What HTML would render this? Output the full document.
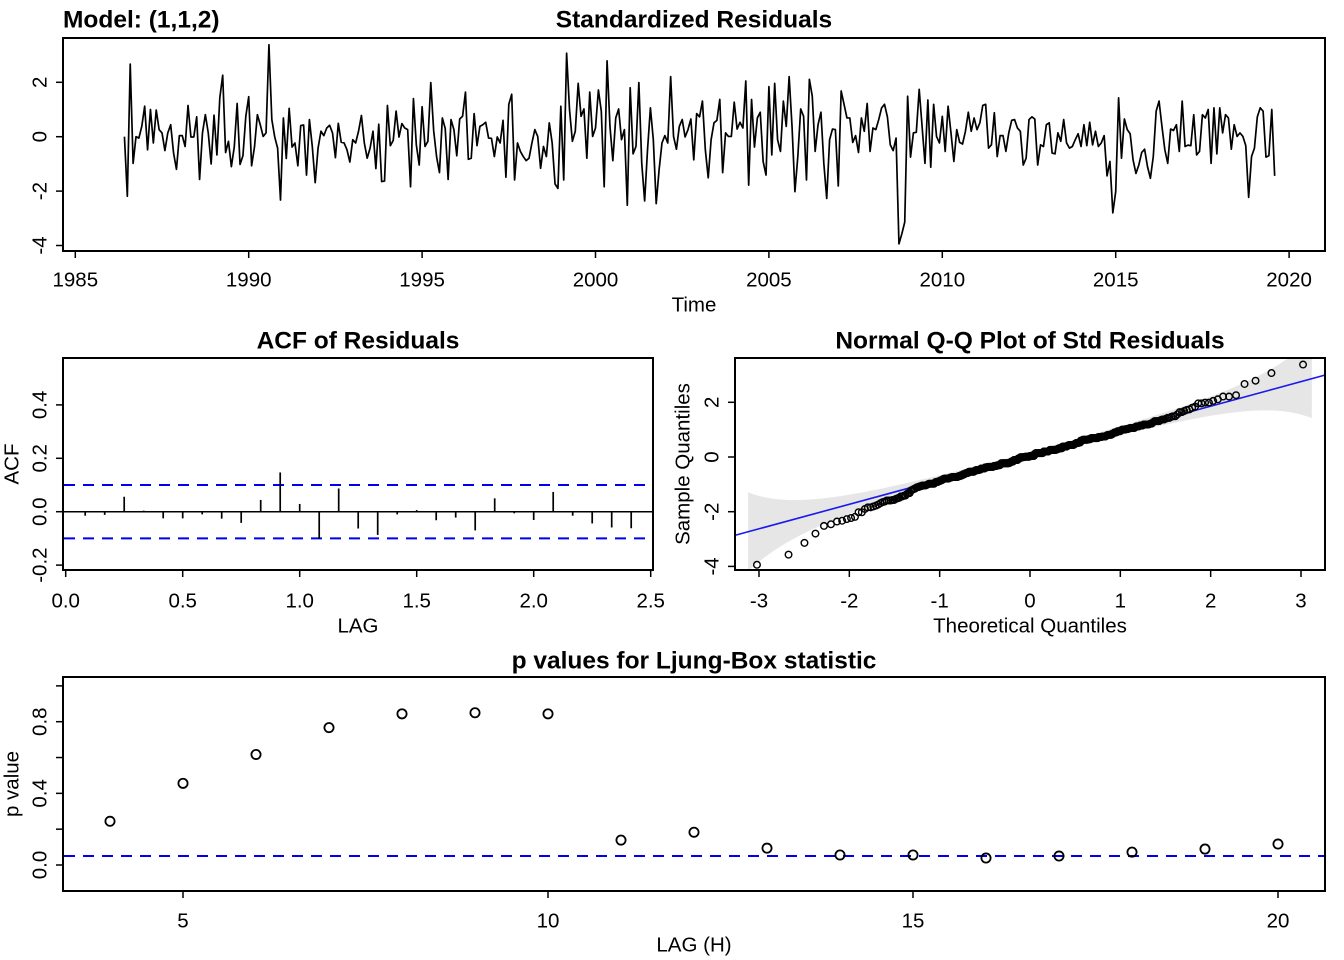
<!DOCTYPE html>
<html><head><meta charset="utf-8">
<style>
html,body{margin:0;padding:0;background:#fff;}
svg{display:block;font-family:"Liberation Sans",Arial,sans-serif;}
.tl{font-size:20.5px;fill:#000;}
.tt{font-size:24.5px;font-weight:bold;fill:#000;}
</style></head>
<body>
<svg id="fig" width="1344" height="960" viewBox="0 0 1344 960" xmlns="http://www.w3.org/2000/svg">
<defs>
<clipPath id="clipTop"><rect x="63" y="38" width="1262" height="213"/></clipPath>
<clipPath id="clipQQ"><rect x="735" y="358" width="590" height="212"/></clipPath>
</defs>
<g id="gTop"></g>
<g id="gAcf"></g>
<g id="gQQ"></g>
<g id="gLB"></g>
</svg>
<script>
// ---------- data ----------
const residStart = 1986.417;
const residuals = [
0.0,-2.19,2.67,-0.98,0.0,-0.05,0.38,1.12,-0.48,1.0,-0.23,0.98,0.26,0.14,-0.51,0.14,0.44,-0.6,-1.2,0.04,0.04,-0.36,1.15,-0.01,-0.01,0.73,-1.57,0.14,0.81,0.14,-1.0,0.79,-0.67,1.43,2.26,-0.58,-0.17,-1.1,-0.38,1.22,-1.02,-0.7,0.75,1.47,-1.07,-0.38,0.81,0.44,0.01,0.14,3.38,0.63,-0.01,-0.42,-2.33,0.69,-0.8,1.04,-0.38,-0.23,-1.07,0.41,0.43,-1.41,0.63,-0.36,-1.69,-0.42,0.2,0.04,0.32,0.42,0.14,-0.77,0.49,-0.2,-0.23,-0.48,-0.93,-0.11,-0.23,0.2,0.78,-0.23,-0.79,-0.42,0.2,-1.17,0.46,-1.65,-1.63,1.15,-0.33,-0.14,0.94,-0.01,0.48,0.32,0.26,-1.84,1.4,-0.3,-1.04,1.1,-0.36,-0.17,1.99,0.22,-0.73,-1.32,0.69,0.3,-1.57,0.63,0.26,-0.7,0.65,0.75,1.64,-0.83,-0.79,0.85,-0.33,0.38,0.44,0.53,-0.05,-0.06,-0.73,-0.01,-0.23,0.6,-1.49,1.19,1.56,-1.59,-0.23,
-0.54,-0.73,-0.88,-0.79,-0.23,0.26,0.01,-1.16,-0.36,-0.73,0.51,-0.23,-1.74,-1.9,1.12,-1.59,3.07,1.0,-0.17,0.2,1.96,0.75,1.02,-0.79,1.64,0.01,0.32,1.72,0.94,-1.84,2.79,0.38,-0.88,0.69,1.02,-0.11,0.26,-2.52,1.8,-0.63,-0.36,1.99,-0.98,-2.36,-0.48,1.06,-0.11,-2.46,-1.22,-0.23,0.04,-0.23,2.21,0.01,-0.46,0.38,0.63,-0.01,0.26,0.65,-0.85,0.85,0.73,1.31,-0.48,-1.51,-0.11,0.51,0.6,1.37,-1.32,0.14,0.01,0.01,1.27,0.28,0.53,0.32,2.05,-1.78,1.37,-0.38,0.69,0.9,-0.91,-1.41,1.84,-0.67,1.96,
-0.11,-0.54,1.31,0.38,2.21,0.38,-2.02,-0.73,1.02,0.75,-1.59,2.11,1.49,-0.54,0.44,0.9,-0.98,-2.27,-0.11,0.28,0.26,-1.81,1.68,1.19,0.69,0.69,-0.21,0.04,-0.58,0.69,0.2,1.22,-0.54,0.32,0.26,0.63,1.06,1.19,0.73,-0.3,-0.51,-0.05,-3.94,-3.57,-3.14,1.49,-0.75,0.14,0.16,1.74,0.38,-0.98,1.35,-1.12,1.19,0.01,-0.23,0.75,-0.54,1.12,0.14,-0.91,0.26,-0.21,-0.27,0.2,0.9,0.2,0.69,0.26,0.51,1.15,1.19,-0.42,-0.3,0.88,-0.73,0.04,0.04,-0.54,0.14,0.6,0.63,0.32,0.2,-1.04,-0.79,0.63,0.73,0.65,
-1.04,-0.3,-0.36,0.44,0.51,-0.6,-0.63,0.14,-0.17,0.63,-0.23,-0.42,-0.36,-0.11,0.11,-0.36,0.44,-0.33,0.53,-0.3,0.2,-0.36,-0.23,0.04,-1.44,-0.91,-2.8,-2.02,1.43,-0.79,0.65,0.26,0.11,-0.85,-1.35,-1.04,-0.58,-0.46,-1.1,-1.53,-0.73,0.94,1.31,0.38,-0.48,-0.98,0.28,0.23,0.44,-0.54,1.31,-0.36,-0.31,-0.33,0.81,-0.67,-0.54,0.81,0.69,1.0,-0.98,1.06,-0.63,1.06,0.14,0.81,0.69,-0.46,0.44,0.01,0.14,0.01,-0.33,-2.23,-0.73,-0.42,0.73,1.06,0.94,-0.75,-0.7,1.0,-1.44
];
const acfValues = [-0.015,-0.012,0.056,0.004,-0.025,-0.025,-0.01,-0.026,-0.042,0.044,0.147,0.029,-0.101,0.087,-0.063,-0.087,-0.01,0.006,-0.032,-0.022,-0.07,0.05,-0.006,-0.031,0.074,-0.015,-0.044,-0.059,-0.062];
const acfBound = 0.1;
const lbLags = [4,5,6,7,8,9,10,11,12,13,14,15,16,17,18,19,20];
const lbPvalues = [0.244,0.456,0.617,0.767,0.844,0.85,0.844,0.139,0.183,0.094,0.056,0.056,0.039,0.05,0.072,0.089,0.117];
const lbAlpha = 0.05;
const topYTicks = [-4,-2,0,2];
const topXTicks = [1985,1990,1995,2000,2005,2010,2015,2020];
const acfXTicks = ["0.0","0.5","1.0","1.5","2.0","2.5"];
const acfYTicks = ["-0.2","0.0","0.2","0.4"];
const qqXTicks = [-3,-2,-1,0,1,2,3];
const qqYTicks = [-4,-2,0,2];
const lbXTicks = [5,10,15,20];
const lbYTickVals = [0,0.2,0.4,0.6,0.8,1.0];
const lbYLabels = ["0.0","","0.4","","0.8",""];

// ---------- helpers ----------
const NS="http://www.w3.org/2000/svg";
function mk(tag,attrs,parent){const e=document.createElementNS(NS,tag);for(const k in attrs)e.setAttribute(k,attrs[k]);parent.appendChild(e);return e;}
function txt(parent,x,y,s,cls,rot,anchor){const t=mk('text',{x:x,y:y,'class':cls,'text-anchor':anchor||'middle','dominant-baseline':'central'},parent);if(rot)t.setAttribute('transform','rotate(-90 '+x+' '+y+')');t.textContent=s;return t;}
function lin(a0,a1,p0,p1){return v=>p0+(v-a0)*(p1-p0)/(a1-a0);}
function qnorm(p){const a=[-39.69683028665376,220.9460984245205,-275.9285104469687,138.357751867269,-30.66479806614716,2.506628277459239],b=[-54.47609879822406,161.5858368580409,-155.6989798598866,66.80131188771972,-13.28068155288572],c=[-0.007784894002430293,-0.3223964580411365,-2.400758277161838,-2.549732539343734,4.374664141464968,2.938163982698783],d=[0.007784695709041462,0.3224671290700398,2.445134137142996,3.754408661907416];const pl=0.02425;let q,r;if(p<pl){q=Math.sqrt(-2*Math.log(p));return (((((c[0]*q+c[1])*q+c[2])*q+c[3])*q+c[4])*q+c[5])/((((d[0]*q+d[1])*q+d[2])*q+d[3])*q+1);}if(p>1-pl){q=Math.sqrt(-2*Math.log(1-p));return -(((((c[0]*q+c[1])*q+c[2])*q+c[3])*q+c[4])*q+c[5])/((((d[0]*q+d[1])*q+d[2])*q+d[3])*q+1);}q=p-0.5;r=q*q;return (((((a[0]*r+a[1])*r+a[2])*r+a[3])*r+a[4])*r+a[5])*q/(((((b[0]*r+b[1])*r+b[2])*r+b[3])*r+b[4])*r+1);}
function pnorm(z){const t=1/(1+0.2316419*Math.abs(z));const d=0.3989423*Math.exp(-z*z/2);let p=d*t*(0.3193815+t*(-0.3565638+t*(1.781478+t*(-1.821256+t*1.330274))));return z>0?1-p:p;}
function dnorm(z){return Math.exp(-z*z/2)/Math.sqrt(2*Math.PI);}
function quant(sorted,p){const h=(sorted.length-1)*p,lo=Math.floor(h);return sorted[lo]+(h-lo)*(sorted[lo+1]-sorted[lo]);}

// ---------- top panel ----------
(function(){
const g=document.getElementById('gTop');
const X=lin(1985,1990,75.3,248.7), Y=lin(0,2,136.7,82.3);
const box=mk('rect',{x:63,y:38,width:1262,height:213,fill:'none',stroke:'#000','stroke-width':2},g);

let d='';residuals.forEach((v,i)=>{d+=(i?'L':'M')+X(residStart+i/12).toFixed(2)+' '+Y(v).toFixed(2);});
const ln=mk('path',{d:d,fill:'none',stroke:'#000','stroke-width':1.7,'stroke-linejoin':'round','clip-path':'url(#clipTop)'},g);

topXTicks.forEach(t=>{const x=X(t);mk('line',{x1:x,y1:251,x2:x,y2:258,stroke:'#000','stroke-width':1.5},g);
 const l=txt(g,x,280,String(t),'tl');});
topYTicks.forEach(t=>{const y=Y(t);mk('line',{x1:63,y1:y,x2:56,y2:y,stroke:'#000','stroke-width':1.5},g);
 const l=txt(g,40,y,String(t),'tl',true);});
const xt=txt(g,694,305,'Time','tl');
const tt=txt(g,694,20,'Standardized Residuals','tt');
const mt=txt(g,63,20,'Model: (1,1,2)','tt',false,'start');
})();

// ---------- ACF panel ----------
(function(){
const g=document.getElementById('gAcf');
const X=lin(0,0.5,65.7,182.7), Y=lin(0,0.2,511.7,458.3);
const box=mk('rect',{x:63,y:358,width:590,height:212,fill:'none',stroke:'#000','stroke-width':2},g);

mk('line',{x1:63,y1:Y(0),x2:653,y2:Y(0),stroke:'#000','stroke-width':1.5},g);
[acfBound,-acfBound].forEach((b,i)=>{const l=mk('line',{x1:64,y1:Y(b),x2:652,y2:Y(b),stroke:'#0000ee','stroke-width':2,'stroke-dasharray':'11 8'},g);
 });
acfValues.forEach((v,i)=>{const x=X((i+1)/12);const b=mk('line',{x1:x,y1:Y(0),x2:x,y2:Y(v),stroke:'#000','stroke-width':1.7},g);
 });
acfXTicks.forEach(t=>{const x=X(parseFloat(t));mk('line',{x1:x,y1:570,x2:x,y2:577,stroke:'#000','stroke-width':1.5},g);
 const l=txt(g,x,601,t,'tl');});
acfYTicks.forEach(t=>{const y=Y(parseFloat(t));mk('line',{x1:63,y1:y,x2:56,y2:y,stroke:'#000','stroke-width':1.5},g);
 const l=txt(g,40,y,t,'tl',true);});
const a=txt(g,358,626,'LAG','tl');
const b=txt(g,12,464,'ACF','tl',true);
const c=txt(g,358,341,'ACF of Residuals','tt');
})();

// ---------- QQ panel ----------
(function(){
const g=document.getElementById('gQQ');
const X=lin(0,3,1030,1301), Y=lin(0,2,457,402.3);
const n=residuals.length;
const s=residuals.slice().sort((a,b)=>a-b);
const z=s.map((v,i)=>qnorm((i+0.5)/n));
const q1=quant(s,0.25),q3=quant(s,0.75),z1=qnorm(0.25),z3=qnorm(0.75);
const slope=(q3-q1)/(z3-z1),inter=q1-slope*z1;
const zg=[];for(let v=-3.12;v<=3.1201;v+=0.04)zg.push(v);
let up='',lo='';
zg.forEach((v,i)=>{const p=pnorm(v);const se=slope/dnorm(v)*Math.sqrt(p*(1-p)/n)*1.96*(1.05+0.2*Math.abs(v));const m=inter+slope*v;
 up+=(i?'L':'M')+X(v).toFixed(2)+' '+Y(m+se).toFixed(2);lo=' L'+X(v).toFixed(2)+' '+Y(m-se).toFixed(2)+lo;});
const band=mk('path',{d:up+lo+'Z',fill:'#e6e6e6',stroke:'none','clip-path':'url(#clipQQ)'},g);

const ql=mk('line',{x1:X(-3.3),y1:Y(inter+slope*-3.3),x2:X(3.3),y2:Y(inter+slope*3.3),stroke:'#1a1aee','stroke-width':1.6,'clip-path':'url(#clipQQ)'},g);

s.forEach((v,i)=>{const c=mk('circle',{cx:X(z[i]),cy:Y(v),r:3.3,fill:'none',stroke:'#000','stroke-width':1.4},g);
 });
const box=mk('rect',{x:735,y:358,width:590,height:212,fill:'none',stroke:'#000','stroke-width':2},g);

qqXTicks.forEach(t=>{const x=X(t);mk('line',{x1:x,y1:570,x2:x,y2:577,stroke:'#000','stroke-width':1.5},g);
 const l=txt(g,x,601,String(t),'tl');});
qqYTicks.forEach(t=>{const y=Y(t);mk('line',{x1:735,y1:y,x2:728,y2:y,stroke:'#000','stroke-width':1.5},g);
 const l=txt(g,712,y,String(t),'tl',true);});
const a=txt(g,1030,626,'Theoretical Quantiles','tl');
const b=txt(g,683,464,'Sample Quantiles','tl',true);
const c=txt(g,1030,341,'Normal Q-Q Plot of Std Residuals','tt');
})();

// ---------- Ljung-Box panel ----------
(function(){
const g=document.getElementById('gLB');
const X=lin(5,20,183,1278), Y=lin(0,0.8,865,721.7);
const box=mk('rect',{x:63,y:677,width:1262,height:214,fill:'none',stroke:'#000','stroke-width':2},g);

const dl=mk('line',{x1:64,y1:Y(lbAlpha),x2:1324,y2:Y(lbAlpha),stroke:'#0000ee','stroke-width':2,'stroke-dasharray':'11 8'},g);

lbLags.forEach((k,i)=>{const c=mk('circle',{cx:X(k),cy:Y(lbPvalues[i]),r:4.6,fill:'none',stroke:'#000','stroke-width':1.8},g);
 });
lbXTicks.forEach(t=>{const x=X(t);mk('line',{x1:x,y1:891,x2:x,y2:898,stroke:'#000','stroke-width':1.5},g);
 const l=txt(g,x,921,String(t),'tl');});
lbYTickVals.forEach((t,i)=>{const y=Y(t);mk('line',{x1:63,y1:y,x2:56,y2:y,stroke:'#000','stroke-width':1.5},g);
 if(lbYLabels[i]){const l=txt(g,40,y,lbYLabels[i],'tl',true);}});
const a=txt(g,694,945,'LAG (H)','tl');
const b=txt(g,12,784,'p value','tl',true);
const c=txt(g,694,661,'p values for Ljung-Box statistic','tt');
})();
</script>
</body></html>
